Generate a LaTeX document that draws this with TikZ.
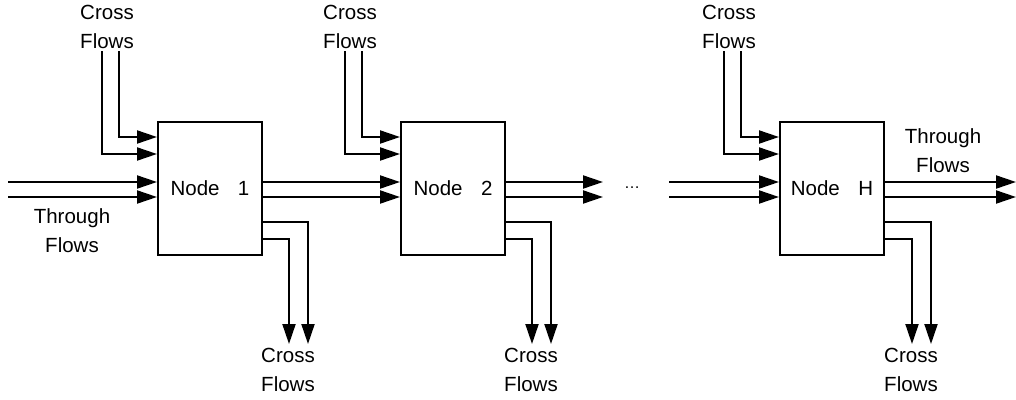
\documentclass[tikz,border=0pt]{standalone}
\usepackage{fontspec}
\setmainfont{Liberation Sans}
\usetikzlibrary{arrows.meta}
\begin{document}
\begin{tikzpicture}[x=1pt,y=-1pt,
  flow/.style={line width=2pt,-{Triangle[length=20pt,width=13pt]}},
  box/.style={draw,line width=2pt,minimum width=104pt,minimum height=133pt,inner sep=0pt,font=\fontsize{20.5}{24}\selectfont},
  lbl/.style={align=center,font=\fontsize{20.5}{29}\selectfont,inner sep=0pt}]
\useasboundingbox (0,0) rectangle (1016,399);
% boxes
\node[box] (n1) at (210,188.5) {Node\hspace{0.9em}1};
\node[box] (n2) at (453,188.5) {Node\hspace{0.9em}2};
\node[box] (nH) at (832,188.5) {Node\hspace{0.9em}H};
% free ends
\coordinate (i1a) at (119,51); \coordinate (i1b) at (102,51);
\coordinate (i2a) at (362,51); \coordinate (i2b) at (345,51);
\coordinate (iHa) at (741,51); \coordinate (iHb) at (724,51);
\coordinate (t1a) at (8,182); \coordinate (t1b) at (8,197);
\coordinate (t2a) at (603,182); \coordinate (t2b) at (603,197);
\coordinate (tHa) at (669,182); \coordinate (tHb) at (669,197);
\coordinate (tOa) at (1016,182); \coordinate (tOb) at (1016,197);
\coordinate (o1a) at (308,344); \coordinate (o1b) at (289,344);
\coordinate (o2a) at (551,344); \coordinate (o2b) at (532,344);
\coordinate (oHa) at (931,344); \coordinate (oHb) at (912,344);
% cross inputs
\draw[flow] (i1a) |- (n1.west |- 0,137);
\draw[flow] (i1b) |- (n1.west |- 0,154);
\draw[flow] (i2a) |- (n2.west |- 0,137);
\draw[flow] (i2b) |- (n2.west |- 0,154);
\draw[flow] (iHa) |- (nH.west |- 0,137);
\draw[flow] (iHb) |- (nH.west |- 0,154);
% through flows
\draw[flow] (t1a) -- (n1.west |- t1a);
\draw[flow] (t1b) -- (n1.west |- t1b);
\draw[flow] (n1.east |- t1a) -- (n2.west |- t1a);
\draw[flow] (n1.east |- t1b) -- (n2.west |- t1b);
\draw[flow] (n2.east |- t2a) -- (t2a);
\draw[flow] (n2.east |- t2b) -- (t2b);
\draw[flow] (tHa) -- (nH.west |- tHa);
\draw[flow] (tHb) -- (nH.west |- tHb);
\draw[flow] (nH.east |- tOa) -- (tOa);
\draw[flow] (nH.east |- tOb) -- (tOb);
% cross outputs
\draw[flow] (n1.east |- 0,222) -| (o1a);
\draw[flow] (n1.east |- 0,239) -| (o1b);
\draw[flow] (n2.east |- 0,222) -| (o2a);
\draw[flow] (n2.east |- 0,239) -| (o2b);
\draw[flow] (nH.east |- 0,222) -| (oHa);
\draw[flow] (nH.east |- 0,239) -| (oHb);
% labels
\node[lbl] (l1) at (107,27) {Cross\\Flows};
\node[lbl] (l2) at (350,27) {Cross\\Flows};
\node[lbl] (l3) at (729,27) {Cross\\Flows};
\node[lbl] (l4) at (288,370) {Cross\\Flows};
\node[lbl] (l5) at (531,370) {Cross\\Flows};
\node[lbl] (l6) at (911,370) {Cross\\Flows};
\node[lbl] (l7) at (72,231) {Through\\Flows};
\node[lbl] (l8) at (943,151) {Through\\Flows};
\node[inner sep=0pt,font=\fontsize{16}{19}\selectfont] (dots) at (632,188) {\textellipsis};
\end{tikzpicture}
\end{document}
